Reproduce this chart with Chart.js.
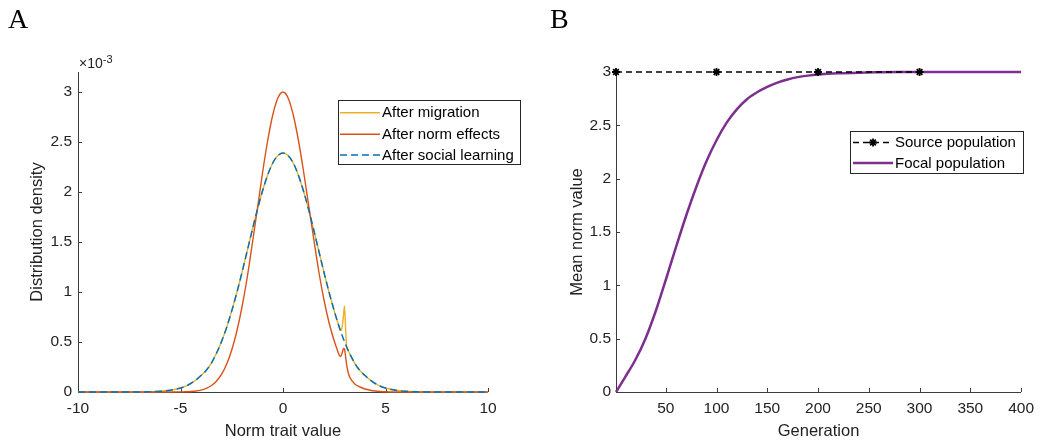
<!DOCTYPE html>
<html><head><meta charset="utf-8">
<script src="https://cdn.jsdelivr.net/npm/chart.js@4.4.1/dist/chart.umd.min.js"></script>
<style>
html,body{margin:0;padding:0;background:#fff;}
#wrap{position:relative;width:1041px;height:442px;background:#fff;}
canvas{position:absolute;left:0;top:0;}
</style></head><body>
<div id="wrap"><canvas id="ca" width="1041" height="442"></canvas><canvas id="cb" width="1041" height="442"></canvas></div>
<script>
// ---------- Panel A data (density in units of 1e-3) ----------
const traitX = [-10,-8,-7,-6.5,-6,-5.5,-5,-4.75,-4.5,-4.25,-4,-3.75,-3.5,-3.25,-3,-2.75,-2.5,-2.25,-2,-1.75,-1.5,-1.25,-1,-0.75,-0.5,-0.25,0,0.25,0.5,0.75,1,1.25,1.5,1.75,2,2.25,2.5,2.6,2.7,2.75,2.8,2.85,2.9,2.95,3,3.05,3.1,3.15,3.2,3.25,3.5,3.75,4,4.25,4.5,4.75,5,5.5,6,6.5,7,8,10];
const afterSocial = [0,0,0,0.002,0.007,0.018,0.04,0.058,0.085,0.12,0.165,0.215,0.287,0.385,0.504,0.646,0.811,0.995,1.196,1.407,1.62,1.824,2.01,2.168,2.29,2.364,2.39,2.364,2.29,2.168,2.01,1.824,1.62,1.407,1.196,0.995,0.811,0.741,0.677,0.646,0.616,0.586,0.558,0.53,0.504,0.478,0.453,0.429,0.406,0.385,0.287,0.215,0.165,0.12,0.085,0.058,0.04,0.018,0.007,0.002,0,0,0];
const afterMigration = [0,0,0,0.002,0.007,0.018,0.04,0.058,0.085,0.12,0.165,0.215,0.287,0.385,0.504,0.646,0.811,0.995,1.196,1.407,1.62,1.824,2.01,2.168,2.29,2.364,2.39,2.364,2.29,2.168,2.01,1.824,1.62,1.407,1.196,0.995,0.811,0.741,0.677,0.646,0.616,0.62,0.67,0.76,0.86,0.66,0.46,0.429,0.406,0.385,0.287,0.215,0.165,0.12,0.085,0.058,0.04,0.018,0.007,0.002,0,0,0];
const afterNorm = [0,0,0,0,0,0,0.001,0.002,0.005,0.01,0.019,0.036,0.063,0.108,0.176,0.277,0.42,0.61,0.85,1.14,1.48,1.83,2.19,2.51,2.77,2.94,3.0,2.94,2.77,2.52,2.21,1.87,1.53,1.2,0.92,0.69,0.51,0.45,0.39,0.365,0.355,0.37,0.40,0.435,0.43,0.36,0.28,0.22,0.18,0.15,0.08,0.05,0.03,0.018,0.01,0.005,0.002,0,0,0,0,0,0];
const xTicksA = [-10,-5,0,5,10];
const yTicksA = [0,0.5,1,1.5,2,2.5,3];
const legendA = ['After migration','After norm effects','After social learning'];

// ---------- Panel B data ----------
const generation = [1,10,20,30,40,50,60,70,80,90,100,110,120,130,140,150,160,170,180,190,200,220,240,260,280,300,350,400];
const focalMean = [0,0.14,0.30,0.50,0.755,1.05,1.355,1.65,1.92,2.16,2.36,2.525,2.65,2.745,2.81,2.86,2.9,2.93,2.952,2.966,2.976,2.988,2.994,2.997,2.999,3,3,3];
const sourceGen = [1,100,200,300];
const sourceMean = [3,3,3,3];
const xTicksB = [50,100,150,200,250,300,350,400];
const yTicksB = [0,0.5,1,1.5,2,2.5,3];
const legendB = ['Source population','Focal population'];

const FONT = '"Liberation Sans", Arial, Helvetica, sans-serif';
const TXT = '#222222';

const toPts = (xs, ys) => xs.map((x, i) => ({x: x, y: ys[i]}));

const axesPlugin = {
  id: 'axes',
  beforeDatasetsDraw(chart, args, o) {
    const {ctx, chartArea: a, scales: {x, y}} = chart;
    ctx.save();
    ctx.strokeStyle = '#3c3c3c';
    ctx.lineWidth = 1;
    ctx.beginPath();
    ctx.moveTo(a.left + 0.5, a.top);
    ctx.lineTo(a.left + 0.5, a.bottom + 0.5);
    ctx.lineTo(a.right, a.bottom + 0.5);
    o.xTicks.forEach(v => {
      const px = Math.round(x.getPixelForValue(v)) + 0.5;
      ctx.moveTo(px, a.bottom);
      ctx.lineTo(px, a.bottom - 4);
    });
    o.yTicks.forEach(v => {
      const py = Math.round(y.getPixelForValue(v)) + 0.5;
      ctx.moveTo(a.left, py);
      ctx.lineTo(a.left + 4, py);
    });
    ctx.stroke();
    ctx.restore();
  },
  afterDraw(chart, args, o) {
    const {ctx, chartArea: a} = chart;
    ctx.save();
    ctx.fillStyle = TXT;
    ctx.font = '16.5px ' + FONT;
    ctx.textAlign = 'center';
    ctx.textBaseline = 'middle';
    ctx.fillText(o.xTitle, (a.left + a.right) / 2, 431);
    ctx.save();
    ctx.translate(o.yTitleX, (a.top + a.bottom) / 2);
    ctx.rotate(-Math.PI / 2);
    ctx.fillText(o.yTitle, 0, 0);
    ctx.restore();
    // panel letter
    ctx.fillStyle = '#000';
    ctx.font = '28px "Liberation Serif", "DejaVu Serif", serif';
    ctx.textAlign = 'left';
    ctx.textBaseline = 'alphabetic';
    ctx.fillText(o.letter, o.letterX, 28);
    if (o.exponent) {
      ctx.fillStyle = TXT;
      ctx.font = '14px ' + FONT;
      ctx.fillText('\u00d710', a.left + 1, 68);
      const w = ctx.measureText('\u00d710').width;
      ctx.font = '11px ' + FONT;
      ctx.fillText(o.exponent, a.left + 1 + w, 63);
    }
    // legend
    const L = o.legend;
    ctx.fillStyle = '#fff';
    ctx.fillRect(L.x, L.y, L.w, L.h);
    ctx.strokeStyle = '#262626';
    ctx.lineWidth = 1;
    ctx.strokeRect(L.x + 0.5, L.y + 0.5, L.w, L.h);
    L.items.forEach((it, i) => {
      const ds = chart.data.datasets[it.ds];
      const ry = L.rows[i];
      ctx.save();
      ctx.strokeStyle = ds.borderColor;
      ctx.lineWidth = ds.borderWidth;
      ctx.setLineDash(ds.borderDash || []);
      ctx.beginPath();
      ctx.moveTo(L.lineX0, ry);
      ctx.lineTo(L.lineX1, ry);
      ctx.stroke();
      ctx.restore();
      if (it.marker) {
        ctx.save();
        ctx.strokeStyle = ds.pointBorderColor || ds.borderColor;
        ctx.fillStyle = ds.pointBackgroundColor || ds.borderColor;
        ctx.lineWidth = ds.pointBorderWidth || 1;
        Chart.helpers.drawPoint(ctx, {pointStyle: ds.pointStyle, radius: 4, rotation: 0, borderWidth: ctx.lineWidth}, (L.lineX0 + L.lineX1) / 2, ry);
        ctx.restore();
      }
      ctx.fillStyle = '#000';
      ctx.font = '15px ' + FONT;
      ctx.textAlign = 'left';
      ctx.textBaseline = 'middle';
      ctx.fillText(L.names[i], L.textX, ry + 0.5);
    });
    ctx.restore();
  }
};

function scaleOpts(min, max, ticksArr, pad, fitSize, horizontal) {
  return {
    type: 'linear', min: min, max: max,
    afterBuildTicks: s => { s.ticks = ticksArr.map(v => ({value: v})); },
    afterFit: s => { if (horizontal) s.height = fitSize; else s.width = fitSize; },
    grid: {display: false, drawTicks: false},
    border: {display: false},
    ticks: {font: {family: FONT, size: 15.5}, color: TXT, padding: pad, maxRotation: 0, autoSkip: false,
            callback: v => String(v)}
  };
}

const common = {
  responsive: false, animation: false, devicePixelRatio: 1,
  events: [],
};

new Chart(document.getElementById('ca'), {
  type: 'line',
  data: {datasets: [
    {label: legendA[0], data: toPts(traitX, afterMigration), borderColor: '#EDB120', borderWidth: 1.4, pointRadius: 0, cubicInterpolationMode: 'monotone', order: 3, clip: false},
    {label: legendA[1], data: toPts(traitX, afterNorm), borderColor: '#D95319', borderWidth: 1.4, pointRadius: 0, cubicInterpolationMode: 'monotone', order: 2, clip: false},
    {label: legendA[2], data: toPts(traitX, afterSocial), borderColor: '#0072BD', borderWidth: 1.5, borderDash: [7, 4], pointRadius: 0, cubicInterpolationMode: 'monotone', order: 1, clip: false}
  ]},
  options: Object.assign({}, common, {
    layout: {padding: {left: 0, right: 553, top: 72, bottom: 0}},
    scales: {
      x: scaleOpts(-10, 10, xTicksA, 7, 50, true),
      y: scaleOpts(0, 3.2, yTicksA, 6, 78, false)
    },
    plugins: {
      legend: {display: false}, tooltip: {enabled: false},
      axes: {xTicks: xTicksA, yTicks: yTicksA, xTitle: 'Norm trait value', yTitle: 'Distribution density', yTitleX: 37,
             letter: 'A', letterX: 8, exponent: '-3',
             legend: {x: 338, y: 100, w: 182, h: 64, rows: [112.7, 134.3, 155], lineX0: 340, lineX1: 380, textX: 382,
                      names: legendA, items: [{ds: 0}, {ds: 1}, {ds: 2}]}}
    }
  }),
  plugins: [axesPlugin]
});

new Chart(document.getElementById('cb'), {
  type: 'line',
  data: {datasets: [
    {label: legendB[0], data: toPts(sourceGen, sourceMean), borderColor: '#000', borderWidth: 1.3, borderDash: [6, 4],
     pointStyle: 'star', pointRadius: 4, pointBorderWidth: 1.8, pointBorderColor: '#000', pointBackgroundColor: '#000', order: 1, clip: false},
    {label: legendB[1], data: toPts(generation, focalMean), borderColor: '#7E2F8E', borderWidth: 2.5, pointRadius: 0, cubicInterpolationMode: 'monotone', order: 2, clip: false}
  ]},
  options: Object.assign({}, common, {
    layout: {padding: {left: 520, right: 14, top: 72, bottom: 0}},
    scales: {
      x: scaleOpts(1, 400, xTicksB, 7, 50, true),
      y: scaleOpts(0, 3, yTicksB, 5, 96, false)
    },
    plugins: {
      legend: {display: false}, tooltip: {enabled: false},
      axes: {xTicks: xTicksB, yTicks: yTicksB, xTitle: 'Generation', yTitle: 'Mean norm value', yTitleX: 577,
             letter: 'B', letterX: 550, exponent: null,
             legend: {x: 850, y: 131, w: 173, h: 42, rows: [142.5, 163], lineX0: 853, lineX1: 893, textX: 895,
                      names: legendB, items: [{ds: 0, marker: true}, {ds: 1}]}}
    }
  }),
  plugins: [axesPlugin]
});
</script>
</body></html>
